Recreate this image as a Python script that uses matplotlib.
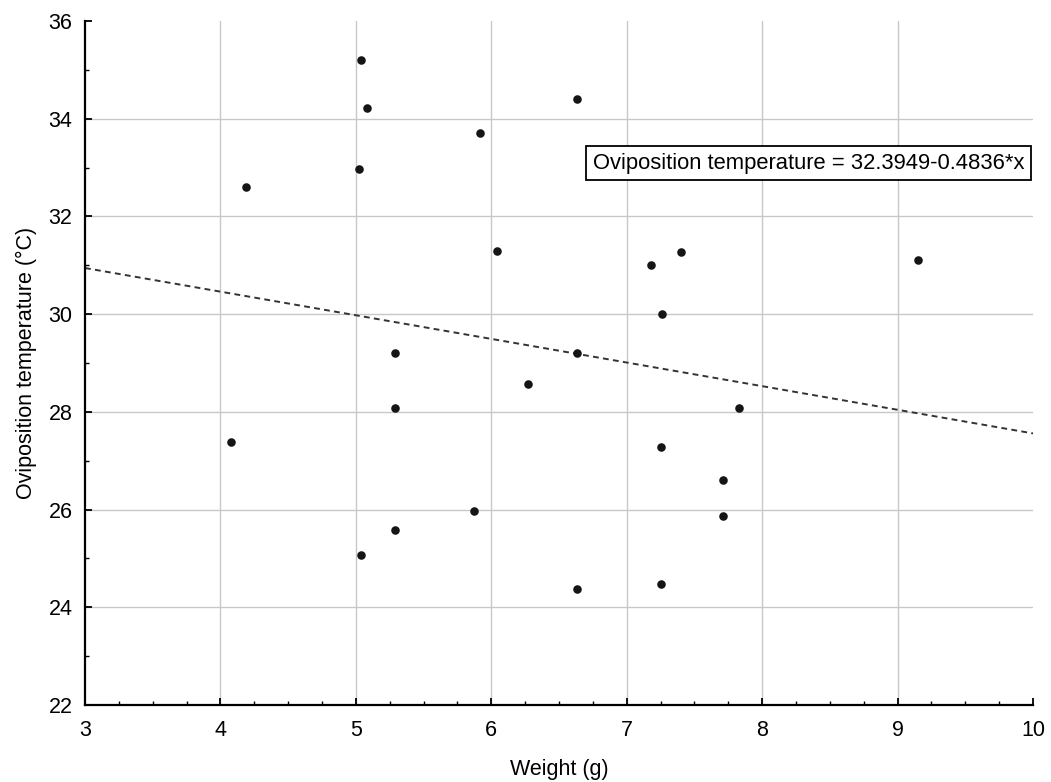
import numpy as np
from matplotlib import pyplot as plt
from matplotlib.ticker import MultipleLocator

plt.rcParams['font.family'] = ['Liberation Sans', 'DejaVu Sans']

# weight (g) and oviposition temperature (C) per female
weight = [5.04, 5.08, 5.92, 6.63, 5.02, 4.19, 6.04, 7.18, 7.40, 9.15,
          7.26, 6.63, 6.27, 5.29, 5.29, 4.08, 5.87, 5.29, 5.04, 6.63,
          7.83, 7.25, 7.71, 7.71, 7.25]
temp = [35.20, 34.22, 33.71, 34.40, 32.98, 32.61, 31.29, 31.00, 31.28, 31.11,
        30.00, 29.20, 28.58, 29.20, 28.08, 27.39, 25.97, 25.59, 25.06, 24.38,
        28.08, 27.29, 26.60, 25.87, 24.48]

# fitted line
intercept = 32.3949
slope = -0.4836

fs = 15.5

fig = plt.figure(figsize=(10.51, 7.82), dpi=100)
ax = fig.add_subplot(111)
fig.subplots_adjust(left=85 / 1051, right=1033 / 1051,
                    bottom=1 - 705 / 782, top=1 - 21 / 782)

ax.set_xlim(3, 10)
ax.set_ylim(22, 36)

# grid only on the inner major ticks
for gx in range(4, 10):
    ax.axvline(gx, color='#c8c8c8', linewidth=1.0, zorder=0)
for gy in range(24, 36, 2):
    ax.axhline(gy, color='#c8c8c8', linewidth=1.0, zorder=0)

xfit = np.array([3, 10])
ax.plot(xfit, intercept + slope * xfit, linestyle=(0, (3, 2.2)),
        color='#333333', linewidth=1.4, zorder=2)

ax.scatter(weight, temp, s=38, color='#151515', zorder=3, linewidths=0)

ax.xaxis.set_major_locator(MultipleLocator(1))
ax.xaxis.set_minor_locator(MultipleLocator(0.25))
ax.yaxis.set_major_locator(MultipleLocator(2))
ax.yaxis.set_minor_locator(MultipleLocator(1))

for s in ['top', 'right']:
    ax.spines[s].set_visible(False)
for s in ['left', 'bottom']:
    ax.spines[s].set_linewidth(1.6)
    ax.spines[s].set_color('black')

ax.tick_params(which='major', direction='in', length=5, width=1.3,
               labelsize=fs, colors='black')
ax.tick_params(which='minor', direction='in', length=3, width=1.0)
ax.tick_params(axis='x', pad=11)
ax.tick_params(axis='y', pad=9)

ax.set_xlabel('Weight (g)', fontsize=fs, labelpad=13)
ax.set_ylabel('Oviposition temperature (°C)', fontsize=fs, labelpad=8)

ax.text(6.75, 33.09, 'Oviposition temperature = %.4f-%.4f*x' % (intercept, -slope),
        fontsize=15.8, ha='left', va='center', zorder=4,
        bbox=dict(boxstyle='square,pad=0.3', facecolor='white',
                  edgecolor='black', linewidth=1.3))

plt.savefig('out.png', dpi=100)
